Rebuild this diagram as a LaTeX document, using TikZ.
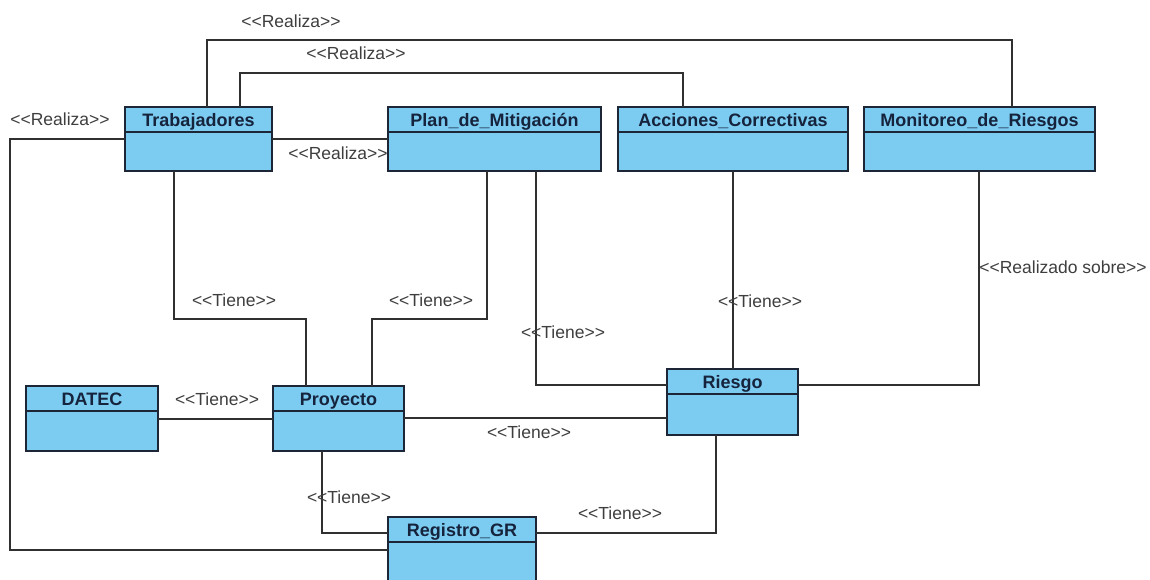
\documentclass[tikz,border=0pt]{standalone}
\usepackage{fontspec}
\setmainfont{Liberation Sans}
\usepackage{tikz}
\definecolor{celeste}{RGB}{124,204,242}
\definecolor{borde}{RGB}{28,38,54}
\definecolor{tinta}{RGB}{22,35,60}
\definecolor{gris}{RGB}{62,62,62}
\definecolor{linea}{RGB}{48,48,48}
\newcommand{\est}[1]{<\kern0pt<#1>\kern0pt>}
% clase: nombre, x, y, ancho, alto, titulo
\newcommand{\clase}[6]{%
  \node[clase, minimum width=#4pt, minimum height=#5pt] (#1) at (#2,#3) {};
  \node[titulo] (#1t) at ([yshift=-19pt]#1.north) {#6};
  \draw[borde, line width=2pt] ([yshift=-25pt]#1.north west) -- ([yshift=-25pt]#1.north east);
}

\begin{document}
\begin{tikzpicture}[x=1pt,y=-1pt,
    clase/.style={draw=borde, fill=celeste, line width=2pt, rectangle, inner sep=0pt, outer sep=0pt, anchor=north west},
    titulo/.style={font=\bfseries\fontsize{18}{18}\selectfont, text=tinta, inner sep=0pt, anchor=base},
    rel/.style={draw=linea, line width=1.6pt},
    etiq/.style={font=\fontsize{17.5}{17.5}\selectfont, text=gris, inner sep=0pt}]
    %\draw[help lines] (0,0) grid (1150,579);
    \useasboundingbox (0,0) rectangle (1150,579);
    \clip (0,0) rectangle (1150,579);

    % clases
    \clase{trab}{125}{107}{147}{64}{Trabajadores}
    \clase{plan}{388}{107}{213}{64}{Plan\_de\_Mitigación}
    \clase{acc}{618}{107}{230}{64}{Acciones\_Correctivas}
    \clase{mon}{864}{107}{231}{64}{Monitoreo\_de\_Riesgos}
    \clase{datec}{26}{386}{132}{65}{DATEC}
    \clase{proy}{273}{386}{131}{65}{Proyecto}
    \clase{riesgo}{667}{369}{131}{66}{Riesgo}
    \clase{reg}{388}{517}{148}{66}{Registro\_GR}

    % relaciones
    \draw[rel] ([xshift=82pt]trab.north west) -- ++(0,67pt) -| ([xshift=148pt]mon.north west);
    \draw[rel] ([xshift=115pt]trab.north west) -- ++(0,34pt) -| ([xshift=65pt]acc.north west);
    \draw[rel] ([yshift=-32pt]trab.north west) -- ++(-115pt,0) |- ([yshift=-33pt]reg.north west);
    \draw[rel] ([yshift=-32pt]trab.north east) -- ([yshift=-32pt]plan.north west);
    \draw[rel] ([xshift=49pt]trab.south west) -- ++(0,-148pt) -| ([xshift=33pt]proy.north west);
    \draw[rel] ([xshift=99pt]plan.south west) -- ++(0,-148pt) -| ([xshift=99pt]proy.north west);
    \draw[rel] ([xshift=148pt]plan.south west) |- ([yshift=-16pt]riesgo.north west);
    \draw[rel] ([xshift=115pt]acc.south west) -- ([xshift=66pt]riesgo.north west);
    \draw[rel] ([xshift=115pt]mon.south west) |- ([yshift=-16pt]riesgo.north east);
    \draw[rel] ([yshift=-33pt]datec.north east) -- ([yshift=-33pt]proy.north west);
    \draw[rel] ([yshift=-32pt]proy.north east) -- ([yshift=-32pt]proy.north east -| riesgo.west);
    \draw[rel] ([xshift=49pt]proy.south west) |- ([yshift=-16pt]reg.north west);
    \draw[rel] ([xshift=49pt]riesgo.south west) |- ([yshift=-16pt]reg.north east);

    % estereotipos
    \node[etiq] (e1) at (291,21) {\est{Realiza}};
    \node[etiq] (e2) at (356,53) {\est{Realiza}};
    \node[etiq] (e3) at (60,119) {\est{Realiza}};
    \node[etiq] (e4) at (338,153) {\est{Realiza}};
    \node[etiq] (e5) at (234,300) {\est{Tiene}};
    \node[etiq] (e6) at (431,300) {\est{Tiene}};
    \node[etiq] (e7) at (563,332) {\est{Tiene}};
    \node[etiq] (e8) at (760,301) {\est{Tiene}};
    \node[etiq] (e9) at (1063,267) {\est{Realizado sobre}};
    \node[etiq] (e10) at (217,399) {\est{Tiene}};
    \node[etiq] (e11) at (529,432) {\est{Tiene}};
    \node[etiq] (e12) at (349,497) {\est{Tiene}};
    \node[etiq] (e13) at (620,513) {\est{Tiene}};
\end{tikzpicture}
\end{document}
